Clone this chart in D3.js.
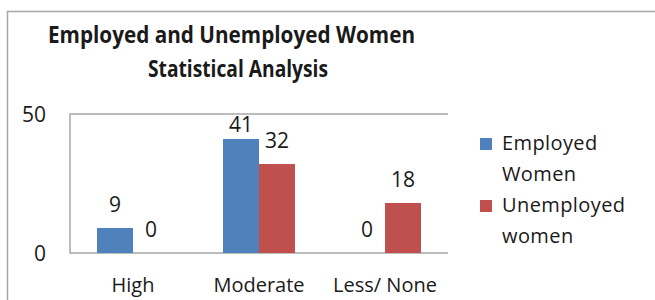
<!DOCTYPE html>
<html lang="en">

<head>
    <meta charset="utf-8">
    <title>Employed and Unemployed Women</title>
    <script src="https://d3js.org/d3.v7.min.js"></script>
    <style>
        body {
            margin: 0;
            padding: 0;
            overflow: hidden;
            background: #fff;
        }

        text {
            font-family: "Open Sans", "Noto Sans", sans-serif;
            fill: #1a1a1a;
        }
    </style>
</head>

<body>

    <svg id="chart"></svg>

    <script>
        const categories = ["High", "Moderate", "Less/ None"];
        const seriesNames = ["Employed Women", "Unemployed women"];
        const employed = [9, 41, 0];
        const unemployed = [0, 32, 18];
        const yTicks = [0, 50];
        const titleLines = ["Employed and Unemployed Women", "Statistical Analysis"];

        const colors = ["#4F81BD", "#C0504D"];
        const width = 655;
        const height = 300;

        const svg = d3.select("#chart")
            .attr("width", width)
            .attr("height", height);

        // outer chart border (runs off the right and bottom edge)
        svg.append("rect")
            .attr("x", 7.5)
            .attr("y", 11.5)
            .attr("width", 700)
            .attr("height", 400)
            .attr("fill", "none")
            .attr("stroke", "#a6a6a6")
            .attr("stroke-width", 1.5);

        // title, squeezed to the width of the original narrow face
        const titleSpan = [{ x: 48, w: 367 }, { x: 148, w: 180 }];
        svg.append("g")
            .selectAll("text")
            .data(titleLines)
            .join("text")
            .attr("x", (d, i) => titleSpan[i].x)
            .attr("y", (d, i) => 43 + i * 34)
            .attr("font-size", 23)
            .attr("font-weight", "bold")
            .attr("textLength", (d, i) => titleSpan[i].w)
            .attr("lengthAdjust", "spacingAndGlyphs")
            .text(d => d);

        const plot = { left: 70, right: 448, top: 114, bottom: 253 };

        const x0 = d3.scaleBand()
            .domain(categories)
            .range([plot.left, plot.right])
            .paddingInner(54 / 126)
            .paddingOuter(27 / 126);

        const x1 = d3.scaleBand()
            .domain(seriesNames)
            .range([0, x0.bandwidth()]);

        const y = d3.scaleLinear()
            .domain([0, 50])
            .range([plot.bottom, plot.top]);

        // plot area frame: left, top, bottom
        svg.append("path")
            .attr("d", `M${plot.right},${plot.top}H${plot.left}V${plot.bottom}H${plot.right}`)
            .attr("fill", "none")
            .attr("stroke", "#a6a6a6")
            .attr("stroke-width", 1.5);

        // y axis labels
        svg.append("g")
            .selectAll("text")
            .data(yTicks)
            .join("text")
            .attr("x", 46)
            .attr("y", d => y(d))
            .attr("dy", "0.36em")
            .attr("text-anchor", "end")
            .attr("font-size", 21)
            .text(d => d);

        const rows = categories.map((c, i) => ({
            category: c,
            values: [employed[i], unemployed[i]]
        }));

        const group = svg.append("g")
            .selectAll("g")
            .data(rows)
            .join("g")
            .attr("transform", d => `translate(${x0(d.category)},0)`);

        const cells = d => d.values.map((v, j) => ({ key: seriesNames[j], value: v, idx: j }));

        group.selectAll("rect")
            .data(cells)
            .join("rect")
            .attr("x", d => x1(d.key))
            .attr("y", d => y(d.value))
            .attr("width", x1.bandwidth())
            .attr("height", d => y(0) - y(d.value))
            .attr("fill", d => colors[d.idx]);

        // value labels, kept inside the plot area
        group.selectAll("text")
            .data(cells)
            .join("text")
            .attr("x", d => x1(d.key) + x1.bandwidth() / 2)
            .attr("y", d => Math.max(y(d.value) - 16, plot.top + 18))
            .attr("text-anchor", "middle")
            .attr("font-size", 21)
            .text(d => d.value);

        // category labels
        svg.append("g")
            .selectAll("text")
            .data(categories)
            .join("text")
            .attr("x", d => x0(d) + x0.bandwidth() / 2)
            .attr("y", 292)
            .attr("text-anchor", "middle")
            .attr("font-size", 20)
            .text(d => d);

        // legend
        const legend = svg.append("g")
            .selectAll("g")
            .data(seriesNames)
            .join("g")
            .attr("transform", (d, i) => `translate(480,${138 + i * 62})`);

        legend.append("rect")
            .attr("width", 12)
            .attr("height", 12)
            .attr("fill", (d, i) => colors[i]);

        legend.append("text")
            .attr("x", 22)
            .attr("y", 12)
            .attr("font-size", 20)
            .style("letter-spacing", "0.4px")
            .selectAll("tspan")
            .data(d => d.split(" "))
            .join("tspan")
            .attr("x", 22)
            .attr("dy", (d, i) => i === 0 ? 0 : 31)
            .text(d => d);
    </script>
</body>

</html>
